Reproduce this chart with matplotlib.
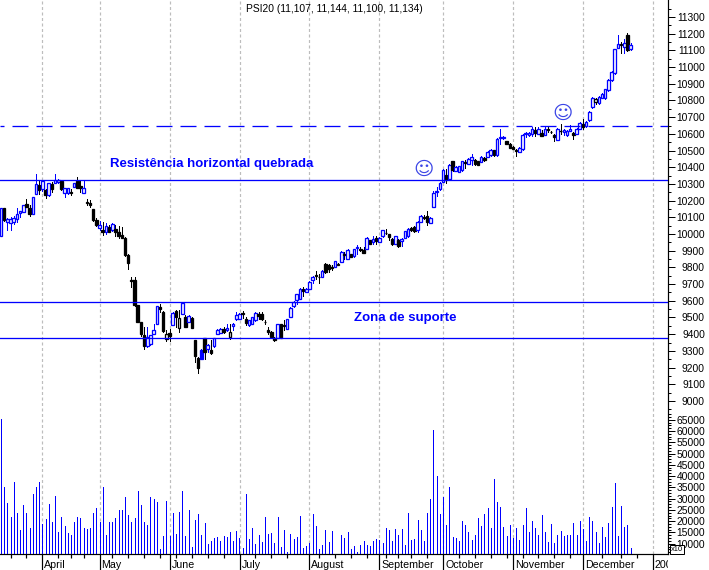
import numpy as np
import matplotlib
matplotlib.use('Agg')
import matplotlib.pyplot as plt
from matplotlib.transforms import Bbox

# daily candles, one row per session: open, high, low, close
ohlc = [
    (9991, 10153, 9991, 10153), (10153, 10155, 10080, 10083), (10073, 10093, 10027, 10089), (10067, 10103, 10027, 10091),
    (10071, 10110, 10060, 10095), (10087, 10153, 10073, 10119), (10123, 10140, 10103, 10137), (10133, 10175, 10130, 10173),
    (10179, 10207, 10159, 10163), (10153, 10173, 10109, 10119), (10119, 10219, 10119, 10219), (10241, 10357, 10241, 10297),
    (10293, 10317, 10237, 10263), (10267, 10320, 10260, 10319), (10263, 10269, 10217, 10233), (10233, 10305, 10225, 10303),
    (10297, 10309, 10253, 10269), (10307, 10357, 10303, 10323), (10313, 10330, 10305, 10323), (10319, 10325, 10265, 10271),
    (10245, 10277, 10223, 10275), (10243, 10275, 10240, 10273), (10249, 10267, 10233, 10247), (10283, 10305, 10280, 10303),
    (10319, 10339, 10273, 10277), (10287, 10319, 10253, 10273), (10247, 10319, 10243, 10273), (10193, 10209, 10173, 10183),
    (10183, 10203, 10159, 10173), (10147, 10150, 10080, 10083), (10083, 10093, 10047, 10053), (10037, 10079, 10023, 10057),
    (10027, 10073, 9993, 10013), (10013, 10067, 10003, 10047), (10043, 10055, 10010, 10013), (10023, 10067, 10020, 10059),
    (10033, 10053, 9987, 10013), (10013, 10047, 9979, 9987), (9993, 10043, 9975, 9979), (9977, 9980, 9870, 9873),
    (9877, 9883, 9789, 9827), (9723, 9743, 9683, 9719), (9723, 9743, 9570, 9573), (9573, 9575, 9470, 9473),
    (9473, 9475, 9387, 9399), (9393, 9443, 9309, 9329), (9329, 9443, 9325, 9383), (9343, 9395, 9335, 9393),
    (9403, 9463, 9399, 9423), (9463, 9570, 9460, 9567), (9563, 9583, 9533, 9553), (9535, 9537, 9415, 9417),
    (9369, 9423, 9359, 9399), (9407, 9433, 9359, 9387), (9457, 9530, 9455, 9529), (9539, 9547, 9443, 9503),
    (9437, 9543, 9413, 9497), (9523, 9589, 9520, 9587), (9503, 9513, 9440, 9443), (9473, 9512, 9470, 9509),
    (9499, 9500, 9435, 9437), (9363, 9365, 9233, 9267), (9259, 9262, 9167, 9199), (9307, 9310, 9250, 9253),
    (9377, 9379, 9253, 9293), (9313, 9340, 9293, 9333), (9303, 9363, 9279, 9289), (9329, 9380, 9325, 9377),
    (9403, 9430, 9400, 9427), (9407, 9436, 9405, 9433), (9433, 9443, 9407, 9413), (9423, 9463, 9418, 9439),
    (9383, 9463, 9373, 9413), (9449, 9466, 9423, 9463), (9493, 9533, 9483, 9513), (9493, 9527, 9490, 9523),
    (9527, 9537, 9499, 9523), (9493, 9503, 9453, 9467), (9453, 9487, 9450, 9483), (9463, 9505, 9460, 9503),
    (9487, 9533, 9480, 9529), (9523, 9531, 9493, 9509), (9523, 9531, 9487, 9493), (9475, 9483, 9459, 9471),
    (9427, 9443, 9403, 9415), (9413, 9420, 9380, 9383), (9379, 9381, 9359, 9367), (9379, 9462, 9376, 9459),
    (9459, 9462, 9376, 9379), (9455, 9483, 9423, 9449), (9431, 9492, 9428, 9489), (9503, 9562, 9500, 9559),
    (9567, 9596, 9563, 9593), (9603, 9642, 9580, 9639), (9613, 9675, 9610, 9669), (9669, 9683, 9627, 9659),
    (9653, 9675, 9650, 9673), (9673, 9716, 9670, 9713), (9723, 9747, 9707, 9743), (9751, 9779, 9733, 9749),
    (9745, 9763, 9707, 9741), (9743, 9782, 9740, 9779), (9823, 9825, 9767, 9771), (9813, 9823, 9773, 9791),
    (9803, 9815, 9785, 9799), (9803, 9840, 9800, 9837), (9817, 9825, 9812, 9823), (9833, 9897, 9830, 9893),
    (9879, 9893, 9853, 9875), (9853, 9910, 9850, 9907), (9879, 9880, 9860, 9863), (9867, 9912, 9865, 9909),
    (9915, 9935, 9880, 9925), (9913, 9925, 9900, 9905), (9907, 9923, 9885, 9887), (9913, 9982, 9910, 9979),
    (9963, 9965, 9940, 9943), (9953, 9987, 9943, 9969), (9979, 9987, 9943, 9959), (9953, 9982, 9950, 9979),
    (9987, 10026, 9985, 10023), (10009, 10033, 10000, 10005), (9999, 10003, 9963, 9983), (9973, 9975, 9933, 9939),
    (9943, 9990, 9940, 9987), (9963, 9970, 9923, 9929), (9959, 9976, 9930, 9973), (9979, 10020, 9975, 10017),
    (9987, 10037, 9980, 10033), (10039, 10045, 10020, 10023), (10043, 10046, 10014, 10017), (10023, 10076, 10015, 10073),
    (10073, 10111, 10070, 10107), (10103, 10113, 10090, 10097), (10107, 10137, 10053, 10073), (10067, 10099, 10065, 10097),
    (10163, 10257, 10160, 10243), (10250, 10283, 10227, 10255), (10267, 10310, 10265, 10307), (10312, 10387, 10310, 10382),
    (10352, 10387, 10303, 10322), (10332, 10417, 10323, 10412), (10436, 10440, 10380, 10382), (10378, 10405, 10375, 10402),
    (10372, 10410, 10370, 10408), (10382, 10440, 10378, 10436), (10430, 10442, 10396, 10426), (10422, 10458, 10420, 10452),
    (10445, 10482, 10412, 10460), (10446, 10452, 10415, 10422), (10436, 10440, 10414, 10416), (10432, 10465, 10430, 10462),
    (10458, 10462, 10438, 10442), (10462, 10495, 10460, 10492), (10472, 10510, 10470, 10506), (10502, 10504, 10468, 10472),
    (10472, 10575, 10470, 10572), (10576, 10632, 10542, 10580), (10578, 10590, 10570, 10583), (10556, 10560, 10538, 10542),
    (10542, 10546, 10515, 10518), (10522, 10525, 10510, 10512), (10504, 10512, 10468, 10500), (10493, 10520, 10490, 10516),
    (10508, 10600, 10505, 10596), (10598, 10612, 10582, 10604), (10592, 10612, 10590, 10608), (10602, 10640, 10590, 10632),
    (10626, 10642, 10586, 10606), (10602, 10640, 10600, 10632), (10608, 10625, 10586, 10588), (10596, 10642, 10594, 10632),
    (10630, 10642, 10612, 10626), (10614, 10616, 10608, 10610), (10592, 10602, 10558, 10582), (10566, 10636, 10562, 10632),
    (10620, 10662, 10602, 10616), (10612, 10630, 10592, 10622), (10592, 10622, 10590, 10618), (10618, 10652, 10615, 10632),
    (10608, 10610, 10572, 10592), (10602, 10636, 10598, 10632), (10632, 10670, 10628, 10666), (10662, 10692, 10632, 10642),
    (10646, 10675, 10643, 10672), (10682, 10735, 10680, 10732), (10758, 10820, 10755, 10816), (10792, 10812, 10780, 10806),
    (10782, 10826, 10780, 10822), (10816, 10842, 10813, 10838), (10812, 10870, 10808, 10866), (10862, 10926, 10858, 10922),
    (10922, 10976, 10918, 10972), (10962, 11110, 10958, 11106), (11116, 11192, 11112, 11136), (11130, 11152, 11086, 11136),
    (11118, 11166, 11086, 11142), (11192, 11202, 11098, 11102), (11107, 11144, 11100, 11134),
]

# sessions drawn black with a hollow body, or blue with a filled one
odd_sessions = [52, 56, 63, 72, 106, 187, 195]

volumes = [
    65500, 35200, 28000, 21800, 37500, 23600, 16200, 27200, 23600, 17100, 32200, 35200, 37500, 18900, 21000, 27600,
    19800, 31200, 15300, 21800, 18000, 14700, 13800, 19800, 21800, 21400, 17100, 16700, 17100, 23600, 25800, 19800,
    35200, 13800, 19800, 19800, 21400, 25000, 25000, 30700, 22700, 19800, 21400, 33400, 27200, 19800, 18400, 30700,
    29800, 28500, 7600, 13500, 29000, 13500, 23600, 14400, 24000, 33400, 13500, 25000, 8500, 20500, 23200, 13800,
    19200, 9900, 11200, 12500, 13000, 11200, 13400, 13000, 15200, 11200, 15600, 12500, 8100, 32000, 12100, 17000,
    9900, 13800, 10700, 21800, 14400, 14700, 10300, 21800, 8500, 16000, 6300, 14300, 12100, 13000, 22300, 8100,
    9000, 10300, 23200, 17800, 7600, 9400, 16000, 10700, 15600, 0, 0, 13800, 12500, 15200,
    7600, 9000, 6300, 9400, 11200, 9400, 9000, 11200, 12100, 11600, 10300, 17000, 16000, 11200, 16500, 13800,
    16500, 9400, 23600, 11600, 12100, 20500, 16000, 11200, 23600, 29800, 60500, 40000, 23200, 30900, 18300, 35200,
    13000, 12500, 11200, 20000, 18300, 15200, 11600, 13800, 21400, 17800, 23200, 25800, 17000, 38700, 28500, 26300,
    17400, 13400, 18300, 12500, 17000, 11600, 18300, 25800, 15200, 20000, 17000, 13800, 22700, 15200, 10700, 18700,
    10300, 13800, 15600, 13400, 13800, 13800, 19200, 13800, 20000, 16500, 11200, 21800, 20000, 15200, 10300, 17400,
    13000, 19200, 26300, 36900, 13400, 26700, 17400, 18300, 8100,
]

month_sessions = [13, 31, 53, 75.2, 97, 119, 139, 161, 183, 205]
month_labels = ['April', 'May', 'June', 'July', 'August', 'September', 'October', 'November', 'December', '2005']
week_sessions = [3, 8, 18, 22, 26, 35, 40, 45, 50, 55, 60, 65, 70, 80, 85, 90, 100, 105, 110, 115, 121, 125, 129,
                 134, 144, 149, 154, 159, 164, 169, 174, 179, 189, 195, 200]

support_levels = [10321, 9593, 9378]
broken_level = 10650

BLUE = '#0000ff'
W, H = 709, 570
px = 1 / 100 * 72  # one pixel in points

plt.rcParams['font.family'] = ['Liberation Sans']
plt.rcParams['lines.scale_dashes'] = False

fig = plt.figure(figsize=(W / 100, H / 100), dpi=100, facecolor='white')
rect = [0, 16 / H, 668 / W, 554 / H]

ax = fig.add_axes(rect)
ax.set_xlim(-0.3145, 209.75)
ax.set_ylim(8083, 11402)
ax.patch.set_alpha(0)

vol = fig.add_axes(rect, sharex=ax, frameon=False)
vol.set_ylim(5430, 251200)

FS = 10.2 * px

# month grid
for s in month_sessions:
    ax.axvline(s, color='#bdbdbd', lw=1.2 * px, ls=(0, (3 * px, 2.5 * px)), zorder=1)

# candles
opens, highs, lows, closes = np.array(ohlc).T
sessions = np.arange(len(ohlc))
up = closes >= opens
odd = np.isin(sessions, odd_sessions)
colours = np.where(up ^ odd, BLUE, 'k')
body_low = np.minimum(opens, closes)
body_high = np.maximum(opens, closes)
ax.vlines(sessions, lows, highs, color=colours, lw=px, zorder=3, antialiased=False)
ax.bar(sessions, np.maximum(body_high - body_low, 4), bottom=body_low, width=0.8,
       facecolor=np.where(up, 'white', colours), edgecolor=colours, linewidth=1.3 * px, zorder=3)

# horizontal levels
for level in support_levels:
    ax.axhline(level, color=BLUE, lw=1.3 * px, zorder=4)
ax.axhline(broken_level, color=BLUE, lw=1.3 * px, ls=(12 * px, (16 * px, 8 * px)), zorder=4)

# volume
vol.vlines(sessions, 0, volumes, color=BLUE, lw=px, zorder=3, antialiased=False)

# spines and ticks
for a in (ax, vol):
    a.spines['top'].set_visible(False)
    a.spines['left'].set_visible(False)
    a.yaxis.tick_right()
    a.tick_params(axis='y', which='major', length=7 * px, width=px, pad=30 * px, labelsize=FS)
    a.tick_params(axis='y', which='minor', length=3 * px, width=px)
ax.spines['right'].set_linewidth(1.2 * px)
ax.spines['bottom'].set_linewidth(1.2 * px)

price_major = np.arange(9000, 11301, 100)
ax.set_yticks(price_major, [str(v) for v in price_major], ha='right')
ax.set_yticks(np.arange(8950, 11401, 100), minor=True)

vol_major = np.arange(10000, 65001, 5000)
vol.set_yticks(vol_major, [str(v) for v in vol_major], ha='right')
vol.set_yticks(np.arange(6250, 67501, 1250), minor=True)
vol.tick_params(axis='x', which='both', bottom=False, labelbottom=False)

ax.set_xticks(month_sessions, [''] * len(month_sessions))
ax.set_xticks(week_sessions, minor=True)
ax.tick_params(axis='x', which='major', length=16 * px, width=1.2 * px)
ax.tick_params(axis='x', which='minor', length=4 * px, width=1.2 * px)

# month labels
for s, label in zip(month_sessions, month_labels):
    x0 = (1 + 3.18 * s + 2) / W
    t = fig.text(x0, 1 - 565.5 / H, label, fontsize=10.6 * px, va='center', ha='left')
    t.set_clip_box(Bbox([[0, 0], [668, H]]))
    t.set_clip_on(True)

# texts
fig.text(334.5 / W, 1 - 9 / H, 'PSI20 (11,107, 11,144, 11,100, 11,134)', fontsize=FS, ha='center', va='center')
fig.text(212 / W, 1 - 164 / H, 'Resistência horizontal quebrada', color=BLUE, fontsize=9.5, fontweight='bold',
         ha='center', va='center')
fig.text(405.5 / W, 1 - 318 / H, 'Zona de suporte', color=BLUE, fontsize=9.5, fontweight='bold',
         ha='center', va='center')

# smileys
for x, y in [(424, 169), (563, 113)]:
    fig.text(x / W, 1 - y / H, '☺', color='#3c46e6', fontsize=14, family='DejaVu Sans', ha='center', va='center')

# x10 box
fig.text(677 / W, 1 - 549.5 / H, 'x10', fontsize=7.5 * px, ha='center', va='center', zorder=10,
         bbox=dict(boxstyle='square,pad=0.1', facecolor='white', edgecolor='k', linewidth=px))

fig.savefig('out.png', dpi=100, facecolor='white')
